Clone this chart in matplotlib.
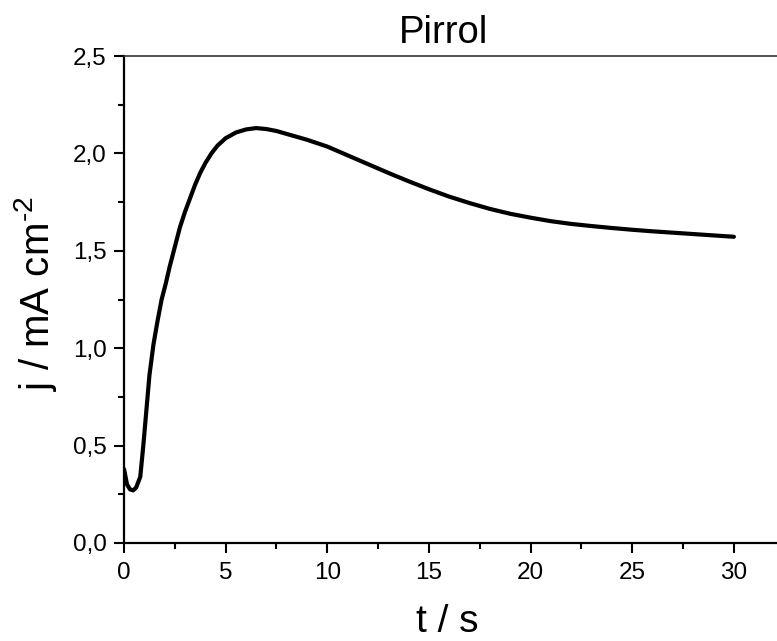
import matplotlib
matplotlib.use("Agg")
import matplotlib.pyplot as plt
from matplotlib.ticker import MultipleLocator, FuncFormatter

# chronoamperometry curve
t_s = [0, 0.15, 0.3, 0.45, 0.6, 0.8, 0.95, 1.1, 1.25, 1.45, 1.65, 1.85, 2.05,
       2.25, 2.5, 2.75, 3.0, 3.25, 3.5, 3.75, 4.0, 4.3, 4.6, 5.0, 5.5, 6.0,
       6.5, 7.0, 7.5, 8.0, 9.0, 10, 11, 12, 13, 14, 15, 16, 17, 18, 19, 20,
       21, 22, 23, 24, 25, 26, 27, 28, 29, 30]
j_mA = [0.38, 0.30, 0.275, 0.27, 0.285, 0.34, 0.50, 0.68, 0.86, 1.02, 1.14,
        1.25, 1.33, 1.42, 1.52, 1.62, 1.70, 1.77, 1.84, 1.90, 1.95, 2.0, 2.04,
        2.078, 2.107, 2.123, 2.13, 2.125, 2.115, 2.10, 2.07, 2.035, 1.99, 1.945,
        1.90, 1.857, 1.816, 1.778, 1.745, 1.715, 1.69, 1.67, 1.652, 1.638,
        1.627, 1.617, 1.608, 1.60, 1.593, 1.586, 1.579, 1.572]

title = "Pirrol"
xlabel = "t / s"
ylabel = r"j / mA cm$^{\text{-2}}$"

plt.rcParams["font.family"] = ["Liberation Sans", "DejaVu Sans"]
plt.rcParams["mathtext.fontset"] = "custom"
plt.rcParams["mathtext.rm"] = "Liberation Sans"

W, H = 777, 641
fig = plt.figure(figsize=(W / 100, H / 100), dpi=100)
ax = fig.add_axes([124 / W, (H - 543) / H, 656 / W, 487 / H])

ax.plot(t_s, j_mA, color="black", lw=3, solid_capstyle="round")

ax.set_xlim(0, 656 / 20.33)
ax.set_ylim(0, 2.5)
ax.xaxis.set_major_locator(MultipleLocator(5))
ax.xaxis.set_minor_locator(MultipleLocator(2.5))
ax.yaxis.set_major_locator(MultipleLocator(0.5))
ax.yaxis.set_minor_locator(MultipleLocator(0.25))
ax.xaxis.set_major_formatter(FuncFormatter(lambda v, p: "%d" % v))
ax.yaxis.set_major_formatter(FuncFormatter(lambda v, p: ("%.1f" % v).replace(".", ",")))

ax.tick_params(which="major", direction="out", length=7.5, width=1.5,
               labelsize=17.5, pad=5)
ax.tick_params(which="minor", direction="out", length=4, width=1.5)
ax.tick_params(axis="x", which="major", pad=6)

ax.spines["right"].set_visible(False)
ax.spines["left"].set_linewidth(1.6)
ax.spines["bottom"].set_linewidth(1.6)
ax.spines["top"].set_linewidth(1.2)
ax.spines["top"].set_color("#333333")

fig.text(443 / W, 1 - 43 / H, title, ha="center", va="baseline", fontsize=27.5)

ax.set_xlabel(xlabel, fontsize=28, va="baseline")
ax.xaxis.set_label_coords(447 / W, 1 - 632 / H, transform=fig.transFigure)
ax.set_ylabel(ylabel, fontsize=29, rotation=90, ha="center", va="center",
              rotation_mode="default")
ax.yaxis.set_label_coords(36 / W, 1 - 294 / H, transform=fig.transFigure)

fig.savefig("out.png", dpi=100)
